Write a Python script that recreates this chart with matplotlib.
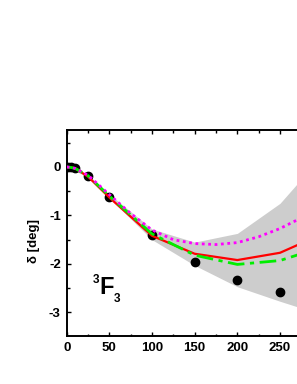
import matplotlib
matplotlib.use("Agg")
import matplotlib.pyplot as plt
from matplotlib.ticker import MultipleLocator

plt.rcParams["axes.unicode_minus"] = False

# data
dot_x = [1, 5, 10, 25, 50, 100, 150, 200, 250]
dot_y = [0.0, -0.01, -0.03, -0.19, -0.62, -1.40, -1.96, -2.34, -2.58]

band_x = [0, 25, 50, 100, 150, 200, 250, 300]
band_lo = [0.0, -0.21, -0.64, -1.50, -2.03, -2.47, -2.77, -3.05]
band_hi = [0.0, -0.16, -0.56, -1.28, -1.55, -1.37, -0.75, 0.25]

line_x = [0, 5, 10, 25, 50, 100, 150, 200, 250, 300]
red_y = [0.0, -0.01, -0.03, -0.20, -0.63, -1.42, -1.79, -1.92, -1.77, -1.38]
green_y = [0.0, -0.01, -0.03, -0.18, -0.60, -1.38, -1.82, -2.01, -1.93, -1.65]

mag_x = [0, 5, 10, 25, 50, 75, 100, 125, 150, 175, 200, 225, 250, 275, 300]
mag_y = [0.0, -0.01, -0.03, -0.17, -0.57, -0.96, -1.30, -1.50, -1.58, -1.60,
         -1.56, -1.44, -1.27, -1.05, -0.80]

xticks = [0, 50, 100, 150, 200, 250]
yticks = [0, -1, -2, -3]

font = "Liberation Sans"

fig = plt.figure(figsize=(2.97, 3.84), dpi=100)
W, H = 297.0, 384.0
left, top, bottom = 66.7, 130.3, 335.7
xmax = 300
px_per_x = 0.8532
right = left + xmax * px_per_x
ax = fig.add_axes([left / W, 1 - bottom / H, (right - left) / W, (bottom - top) / H])

ax.fill_between(band_x, band_lo, band_hi, color="#cdcdcd", lw=0, zorder=1)
ax.plot(dot_x, dot_y, "o", color="black", ms=6, zorder=2)
ax.plot(line_x, red_y, color="#ff0000", lw=1.6, zorder=3)
ax.plot(line_x, green_y, color="#00ee00", lw=2.0, dashes=(6, 2, 1.5, 2), zorder=4)
ax.plot(mag_x, mag_y, color="#ff00ff", lw=2.0, ls=(0, (1, 1.3)), zorder=5)

ax.set_xlim(0, xmax)
ax.set_ylim(-3.48, 0.756)
ax.set_xticks(xticks)
ax.set_yticks(yticks)
ax.xaxis.set_minor_locator(MultipleLocator(25))
ax.yaxis.set_minor_locator(MultipleLocator(0.5))
ax.tick_params(which="both", direction="in", top=True, right=True, width=1.0)
ax.tick_params(which="major", length=3.2, pad=4.2)
ax.tick_params(which="minor", length=1.8)
for lab in ax.get_xticklabels() + ax.get_yticklabels():
    lab.set_fontfamily(font)
    lab.set_fontweight("bold")
    lab.set_fontsize(9.5)
for s in ax.spines.values():
    s.set_linewidth(1.4)

fig.text(34 / W, 1 - 241 / H, "δ [deg]", rotation=90, ha="center", va="center",
         fontsize=9.5, fontweight="bold", family=[font, "DejaVu Sans"])

fig.text(92.3 / W, 1 - 283.3 / H, "3", fontsize=8.5, fontweight="bold",
         family=font, ha="left", va="baseline")
fig.text(99.5 / W, 1 - 294.3 / H, "F", fontsize=17, fontweight="bold",
         family=font, ha="left", va="baseline")
fig.text(114.2 / W, 1 - 301.7 / H, "3", fontsize=8.5, fontweight="bold",
         family=font, ha="left", va="baseline")

fig.savefig("out.png", dpi=100)
